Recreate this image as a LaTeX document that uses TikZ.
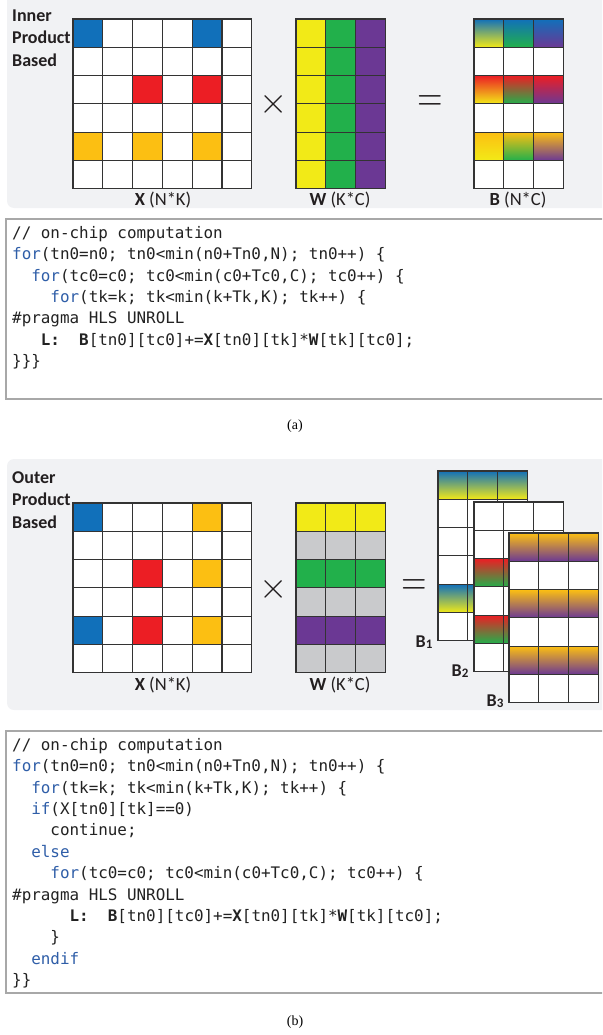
\documentclass[tikz,border=0pt]{standalone}
\usepackage{fontspec}
\setsansfont{Carlito}
\setmonofont{DejaVu Sans Mono}
\newfontfamily\capfont{Liberation Serif}
\usetikzlibrary{positioning}
\definecolor{panelbg}{HTML}{F1F2F4}
\definecolor{gridc}{HTML}{333333}
\definecolor{boxc}{HTML}{A8A8A8}
\definecolor{labelc}{HTML}{231F20}
\definecolor{codec}{HTML}{222222}
\definecolor{kwblue}{HTML}{2F5EA8}
\definecolor{xblue}{HTML}{1170BA}
\definecolor{xred}{HTML}{EC1E24}
\definecolor{xgold}{HTML}{FCBF12}
\definecolor{wyellow}{HTML}{F2EA17}
\definecolor{wgreen}{HTML}{22B04B}
\definecolor{wpurple}{HTML}{6B3894}
\definecolor{wgray}{HTML}{C9CACC}
\tikzset{
  cell/.style={draw=gridc,line width=1.1pt,fill=white},
  panel/.style={fill=panelbg,rounded corners=7pt},
  codebox/.style={draw=boxc,line width=1.2pt,fill=white},
  codetext/.style={anchor=north west,inner sep=0pt,align=left,text=codec,
    font=\fontsize{15.9}{21.4}\selectfont\ttfamily},
  matlabel/.style={font=\sffamily\fontsize{18.5}{20}\selectfont,text=labelc},
  sidelabel/.style={font=\sffamily\bfseries\fontsize{18}{22.5}\selectfont,
    text=labelc,align=left,anchor=west,inner sep=0pt},
  blabel/.style={font=\sffamily\bfseries\fontsize{18}{20}\selectfont,text=labelc,inner sep=0pt},
  opsign/.style={font=\fontsize{24.88}{25}\selectfont,text=labelc,inner sep=0pt},
  caption/.style={font=\capfont\fontsize{14}{16}\selectfont}
}
% cells are 29.8 wide and 28.3 high
\newcommand{\cellgrid}[4]{%
  \foreach \c in {1,...,#3} \foreach \r in {1,...,#4}
    \draw[cell] ({#1+(\c-1)*29.8},{#2+(\r-1)*28.3}) rectangle ++(29.8,28.3);}
\newcommand{\mcell}[5]{%
  \draw[cell,#5] ({#1+#3*29.8},{#2+#4*28.3}) rectangle ++(29.8,28.3);}
\newcommand{\kw}[1]{\textcolor{kwblue}{#1}}
\newcommand{\cind}[1]{\hspace*{#1\fontcharwd\font`0}}
\newcommand{\bsub}[1]{B{\fontsize{13}{13}\selectfont\raisebox{-1.5pt}{#1}}}
\begin{document}
\begin{tikzpicture}[x=1pt,y=-1pt]
\useasboundingbox (0,0) rectangle (602,1035);
\clip (0,0) rectangle (602,1035);

% (a) inner product
\fill[panel] (7,-20) rectangle (640,208);
\cellgrid{73}{19}{6}{6}
\mcell{73}{19}{0}{0}{fill=xblue}\mcell{73}{19}{4}{0}{fill=xblue}
\mcell{73}{19}{2}{2}{fill=xred}\mcell{73}{19}{4}{2}{fill=xred}
\mcell{73}{19}{0}{4}{fill=xgold}\mcell{73}{19}{2}{4}{fill=xgold}\mcell{73}{19}{4}{4}{fill=xgold}
\foreach \r in {0,...,5}{
  \mcell{296}{19}{0}{\r}{fill=wyellow}
  \mcell{296}{19}{1}{\r}{fill=wgreen}
  \mcell{296}{19}{2}{\r}{fill=wpurple}}
\cellgrid{474}{19}{3}{6}
\foreach \r/\tc in {0/xblue,2/xred,4/xgold}{
  \mcell{474}{19}{0}{\r}{top color=\tc,bottom color=wyellow}
  \mcell{474}{19}{1}{\r}{top color=\tc,bottom color=wgreen}
  \mcell{474}{19}{2}{\r}{top color=\tc,bottom color=wpurple}}
\node[sidelabel] (inner) at (12,38) {Inner\\Product\\Based};
\node[opsign] (timesa) at (274,104) {\scalebox{1.46}{$\times$}};
\node[opsign] (eqa) at (430,104) {\scalebox{1.4}[1.8]{$=$}};
\node[matlabel] (xa) at (163,200) {\textbf{X} (N*K)};
\node[matlabel] (wa) at (340,200) {\textbf{W} (K*C)};
\node[matlabel] (ba) at (518,200) {\textbf{B} (N*C)};

\draw[codebox] (6,219) rectangle (640,399);
\node[codetext] (codea) at (12,226) {%
// on-chip computation\\
\kw{for}(tn0=n0; tn0<min(n0+Tn0,N); tn0++) \{\\
\cind{2}\kw{for}(tc0=c0; tc0<min(c0+Tc0,C); tc0++) \{\\
\cind{4}\kw{for}(tk=k; tk<min(k+Tk,K); tk++) \{\\
\#pragma HLS UNROLL\\
\cind{3}\textbf{L:}~~\textbf{B}[tn0][tc0]+=\textbf{X}[tn0][tk]*\textbf{W}[tk][tc0];\\
\}\}\}};
\node[caption] (capa) at (295,426) {(a)};

% (b) outer product
\fill[panel] (7,459) rectangle (640,710);
\cellgrid{73}{503}{6}{6}
\mcell{73}{503}{0}{0}{fill=xblue}\mcell{73}{503}{0}{4}{fill=xblue}
\mcell{73}{503}{2}{2}{fill=xred}\mcell{73}{503}{2}{4}{fill=xred}
\mcell{73}{503}{4}{0}{fill=xgold}\mcell{73}{503}{4}{2}{fill=xgold}\mcell{73}{503}{4}{4}{fill=xgold}
\foreach \r/\wc in {0/wyellow,1/wgray,2/wgreen,3/wgray,4/wpurple,5/wgray}
  \foreach \c in {0,1,2}{\mcell{296}{503}{\c}{\r}{fill=\wc}}
\cellgrid{438}{471}{3}{6}
\foreach \r in {0,4} \foreach \c in {0,1,2}
  {\mcell{438}{471}{\c}{\r}{top color=xblue,bottom color=wyellow}}
\cellgrid{474}{502}{3}{6}
\foreach \r in {2,4} \foreach \c in {0,1,2}
  {\mcell{474}{502}{\c}{\r}{top color=xred,bottom color=wgreen}}
\cellgrid{509}{533}{3}{6}
\foreach \r in {0,2,4} \foreach \c in {0,1,2}
  {\mcell{509}{533}{\c}{\r}{top color=xgold,bottom color=wpurple}}
\node[sidelabel] (outer) at (12,500) {Outer\\Product\\Based};
\node[opsign] (timesb) at (274,589) {\scalebox{1.46}{$\times$}};
\node[opsign] (eqb) at (414,588) {\scalebox{1.4}[1.8]{$=$}};
\node[matlabel] (xb) at (163,685) {\textbf{X} (N*K)};
\node[matlabel] (wb) at (340,685) {\textbf{W} (K*C)};
\node[blabel] (bone) at (424,642) {\bsub{1}};
\node[blabel] (btwo) at (460,671) {\bsub{2}};
\node[blabel] (bthree) at (495,701) {\bsub{3}};

\draw[codebox] (6,731) rectangle (640,993);
\node[codetext] (codeb) at (12,738) {%
// on-chip computation\\
\kw{for}(tn0=n0; tn0<min(n0+Tn0,N); tn0++) \{\\
\cind{2}\kw{for}(tk=k; tk<min(k+Tk,K); tk++) \{\\
\cind{2}\kw{if}(X[tn0][tk]==0)\\
\cind{4}continue;\\
\cind{2}\kw{else}\\
\cind{4}\kw{for}(tc0=c0; tc0<min(c0+Tc0,C); tc0++) \{\\
\#pragma HLS UNROLL\\
\cind{6}\textbf{L:}~~\textbf{B}[tn0][tc0]+=\textbf{X}[tn0][tk]*\textbf{W}[tk][tc0];\\
\cind{4}\}\\
\cind{2}\kw{endif}\\
\}\}};
\node[caption] (capb) at (295,1022) {(b)};
\end{tikzpicture}
\end{document}
